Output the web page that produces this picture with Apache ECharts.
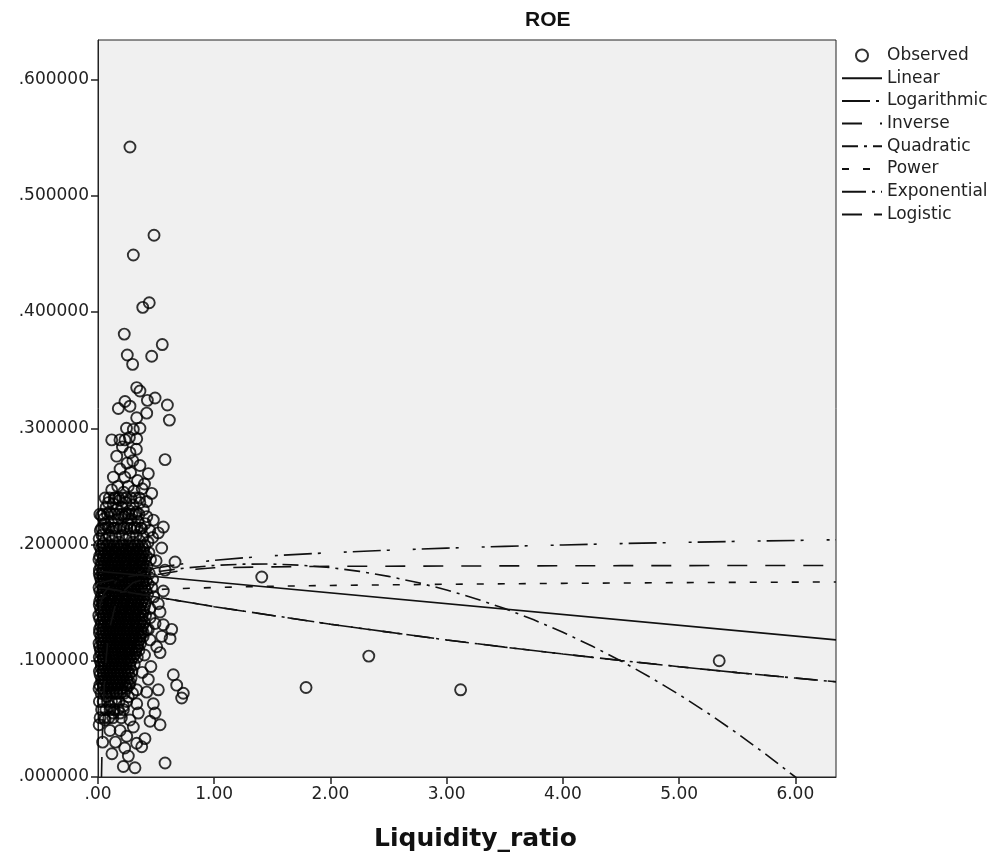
<!DOCTYPE html>
<html>
<head>
<meta charset="utf-8">
<script src="https://cdn.jsdelivr.net/npm/echarts@6/dist/echarts.min.js"></script>
<style>html,body{margin:0;padding:0;background:#fff}#c{width:1001px;height:860px}</style>
</head>
<body>
<div id="c"></div>
<script>
// ---- Observed points: isolated points read individually ----
const observedPoints = [
  [0.275,0.542],[0.482,0.466],[0.304,0.449],[0.441,0.408],[0.385,0.404],[0.226,0.381],
  [0.553,0.372],[0.252,0.363],[0.462,0.362],[0.298,0.355],[0.333,0.335],[0.361,0.332],
  [0.491,0.326],[0.425,0.324],[0.597,0.320],[0.175,0.317],[0.232,0.323],[0.275,0.319],
  [0.419,0.313],[0.614,0.307],[0.333,0.309],[0.361,0.300],[0.304,0.299],[0.118,0.290],
  [0.189,0.290],[0.232,0.290],[0.333,0.291],[0.161,0.276],[0.577,0.273],[0.275,0.279],
  [0.361,0.268],[0.433,0.261],[0.132,0.258],[0.462,0.244],[0.118,0.247],[0.089,0.236],
  [0.419,0.237],[0.210,0.284],[0.250,0.270],[0.300,0.272],[0.190,0.265],[0.230,0.258],
  [0.340,0.255],[0.280,0.262],[0.170,0.250],[0.220,0.245],[0.260,0.250],[0.310,0.246],
  [0.380,0.248],[0.150,0.240],[0.400,0.252],[0.330,0.282],[0.245,0.300],[0.270,0.292],
  [0.060,0.218],[0.046,0.201],[0.476,0.221],[0.562,0.215],[0.519,0.210],[0.548,0.197],
  [0.030,0.225],[0.070,0.232],[0.100,0.228],[0.130,0.235],[0.160,0.230],[0.185,0.238],
  [0.205,0.232],[0.240,0.236],[0.270,0.229],[0.300,0.234],[0.330,0.228],[0.360,0.236],
  [0.390,0.230],[0.420,0.224],[0.020,0.212],[0.050,0.222],[0.085,0.215],[0.115,0.220],
  [0.140,0.214],[0.175,0.222],[0.200,0.216],[0.225,0.224],[0.255,0.218],[0.285,0.222],
  [0.315,0.215],[0.345,0.220],[0.375,0.214],[0.405,0.218],[0.445,0.212],[0.010,0.205],
  [0.035,0.208],[0.065,0.204],[0.095,0.208],[0.125,0.203],[0.150,0.207],[0.180,0.202],
  [0.210,0.208],[0.240,0.204],[0.270,0.207],[0.300,0.202],[0.330,0.208],[0.360,0.203],
  [0.390,0.207],[0.430,0.202],[0.470,0.206],
  [0.663,0.185],[0.577,0.178],[0.562,0.160],[0.519,0.149],[0.534,0.142],[0.491,0.132],
  [0.562,0.131],[0.634,0.127],[0.620,0.119],[0.534,0.107],[0.448,0.118],[0.390,0.124],
  [0.648,0.088],[0.677,0.079],[0.734,0.072],[0.720,0.068],[0.433,0.084],[0.519,0.075],
  [0.476,0.063],[0.491,0.055],[0.448,0.048],[0.534,0.045],[0.333,0.063],[0.347,0.055],
  [0.275,0.049],[0.304,0.043],[0.247,0.035],[0.333,0.029],[0.376,0.026],[0.404,0.033],
  [0.218,0.009],[0.318,0.008],[0.577,0.012],[0.261,0.018],[0.103,0.040],[0.060,0.049],
  [0.103,0.061],[0.075,0.069],[0.218,0.061],[0.189,0.055],[0.132,0.055],[0.261,0.069],
  [0.161,0.072],[0.333,0.075],[0.419,0.073],[0.275,0.081],[0.448,0.137],[0.433,0.127],
  [0.505,0.112],[0.548,0.121],[0.470,0.170],[0.500,0.186],[0.480,0.155],[0.455,0.095],
  [0.380,0.090],[0.400,0.105],[0.150,0.030],[0.190,0.040],[0.230,0.025],[0.120,0.020],
  [0.040,0.030],[0.010,0.045],
  [1.409,0.172],[1.790,0.077],[2.330,0.104],[3.120,0.075],[5.345,0.100]
];
// ---- Observed points: dense core, read row by row (y level, then x values) ----
const coreRowY = [0.240,0.226,0.214,
                  0.199,0.196,0.193,0.190,0.187,0.184,0.181,0.178,0.175,0.172,0.169,0.166,0.163,0.160,0.157,0.154,
                  0.151,0.148,0.145,0.142,0.139,0.136,0.133,0.130,0.127,0.124,0.121,0.118,0.115,0.112,0.109,0.106,
                  0.103,0.100,0.097,0.094,0.091,0.088,0.085,0.082,0.079,0.076,0.072,0.065,0.058,0.051];
const coreRowX = [
  [0.061,0.098,0.139,0.178,0.211,0.244,0.283,0.321,0.356],
  [0.016,0.047,0.081,0.113,0.148,0.176,0.209,0.236,0.262,0.291,0.322,0.352],
  [0.031,0.062,0.094,0.128,0.157,0.189,0.219,0.248,0.279,0.308,0.338,0.368],
  [0.012,0.041,0.078,0.104,0.139,0.163,0.198,0.221,0.258,0.283,0.317,0.342,0.379,0.404],
  [0.026,0.057,0.091,0.118,0.151,0.179,0.211,0.239,0.271,0.298,0.331,0.358,0.392],
  [0.028,0.062,0.087,0.123,0.148,0.184,0.207,0.243,0.268,0.302,0.329,0.364,0.392,0.438],
  [0.015,0.049,0.076,0.109,0.137,0.168,0.197,0.229,0.256,0.291,0.318,0.352,0.381,0.415],
  [0.008,0.043,0.071,0.098,0.133,0.158,0.192,0.226,0.251,0.287,0.311,0.347,0.371,0.405,0.452],
  [0.029,0.058,0.085,0.116,0.146,0.177,0.211,0.238,0.269,0.302,0.328,0.359,0.388],
  [0.024,0.053,0.089,0.117,0.142,0.176,0.203,0.238,0.262,0.296,0.323,0.358,0.384,0.421],
  [0.012,0.041,0.072,0.101,0.131,0.163,0.191,0.224,0.253,0.283,0.316,0.343,0.376,0.408],
  [0.011,0.038,0.066,0.103,0.128,0.161,0.189,0.217,0.249,0.274,0.308,0.336,0.369,0.398,0.441],
  [0.018,0.044,0.071,0.099,0.136,0.165,0.192,0.221,0.251,0.279,0.311,0.341,0.372,0.401],
  [0.027,0.058,0.082,0.114,0.151,0.172,0.208,0.233,0.266,0.291,0.327,0.352,0.387,0.416],
  [0.027,0.061,0.088,0.118,0.147,0.178,0.206,0.237,0.266,0.295,0.329,0.357,0.386,0.431],
  [0.009,0.046,0.073,0.097,0.136,0.159,0.194,0.219,0.254,0.279,0.313,0.341,0.373,0.402,0.463],
  [0.016,0.041,0.077,0.106,0.138,0.169,0.199,0.226,0.258,0.287,0.317,0.349,0.381,0.414],
  [0.031,0.057,0.091,0.121,0.146,0.181,0.206,0.241,0.264,0.298,0.324,0.359,0.391,0.427],
  [0.025,0.052,0.083,0.113,0.152,0.176,0.214,0.237,0.272,0.298,0.333,0.362,0.393],
  [0.014,0.039,0.068,0.106,0.129,0.166,0.188,0.228,0.252,0.286,0.309,0.344,0.377,0.412],
  [0.011,0.038,0.069,0.097,0.127,0.161,0.193,0.219,0.247,0.278,0.307,0.339,0.368,0.403],
  [0.022,0.054,0.083,0.112,0.143,0.174,0.211,0.236,0.271,0.293,0.331,0.356,0.395,0.447],
  [0.028,0.059,0.088,0.121,0.149,0.184,0.208,0.242,0.268,0.302,0.327,0.363,0.389],
  [0.007,0.044,0.072,0.101,0.131,0.157,0.196,0.223,0.257,0.281,0.318,0.346,0.381,0.409],
  [0.015,0.046,0.076,0.106,0.139,0.167,0.201,0.227,0.258,0.287,0.316,0.351,0.378],
  [0.029,0.061,0.088,0.119,0.152,0.178,0.209,0.239,0.263,0.304,0.328,0.362,0.397],
  [0.024,0.053,0.084,0.112,0.143,0.171,0.199,0.233,0.261,0.293,0.324,0.356,0.384],
  [0.013,0.042,0.069,0.099,0.134,0.162,0.191,0.218,0.253,0.277,0.314,0.338,0.374,0.418],
  [0.012,0.039,0.071,0.104,0.129,0.161,0.188,0.222,0.248,0.281,0.309,0.341,0.372],
  [0.026,0.056,0.086,0.116,0.144,0.177,0.204,0.234,0.268,0.296,0.321,0.357,0.389],
  [0.027,0.062,0.092,0.121,0.153,0.181,0.213,0.241,0.271,0.298,0.331,0.358],
  [0.009,0.038,0.074,0.103,0.127,0.163,0.187,0.224,0.249,0.282,0.307,0.343,0.366],
  [0.014,0.044,0.068,0.099,0.131,0.158,0.192,0.219,0.252,0.277,0.312,0.339],
  [0.021,0.052,0.081,0.113,0.141,0.171,0.199,0.231,0.262,0.289,0.326,0.352],
  [0.026,0.058,0.089,0.124,0.149,0.179,0.207,0.238,0.266,0.294,0.321],
  [0.011,0.045,0.067,0.096,0.132,0.156,0.186,0.216,0.247,0.273,0.301,0.338],
  [0.018,0.047,0.077,0.109,0.139,0.168,0.198,0.229,0.257,0.284],
  [0.028,0.058,0.091,0.121,0.148,0.179,0.208,0.241,0.274,0.312],
  [0.027,0.059,0.088,0.119,0.151,0.182,0.211,0.243,0.276],
  [0.012,0.043,0.074,0.106,0.133,0.166,0.194,0.227,0.258,0.293],
  [0.018,0.049,0.078,0.108,0.141,0.172,0.201,0.232,0.266],
  [0.031,0.062,0.089,0.118,0.152,0.183,0.214,0.249,0.284],
  [0.032,0.064,0.095,0.127,0.158,0.189,0.222,0.254],
  [0.016,0.048,0.079,0.111,0.139,0.171,0.206,0.236,0.268],
  [0.009,0.043,0.074,0.103,0.136,0.167,0.198,0.245],
  [0.027,0.063,0.097,0.128,0.158,0.193,0.226,0.297],
  [0.012,0.044,0.082,0.116,0.149,0.181,0.247],
  [0.031,0.068,0.104,0.139,0.173,0.219],
  [0.018,0.055,0.093,0.128,0.201]
];
// ---- Fitted curves at sample x positions ----
const linearCurve = [[0.0,0.177],[6.35,0.118]];
const logCurve = [[0.01,0.1424],[0.02,0.149],[0.05,0.1578],[0.1,0.1644],[0.2,0.171],[0.3,0.1749],[0.5,0.1798],[0.75,0.1837],[1,0.1864],[1.25,0.1885],[1.5,0.1903],[2,0.193],[2.5,0.1951],[3,0.1969],[3.5,0.1984],[4,0.1996],[4.5,0.2008],[5,0.2018],[5.5,0.2027],[6,0.2035],[6.35,0.2041]];
const inverseCurve = [[0.030,0.0],[0.032,0.01],[0.035,0.025],[0.04,0.045],[0.05,0.07],[0.06,0.09],[0.08,0.113],[0.1,0.128],[0.15,0.148],[0.2,0.158],[0.3,0.167],[0.5,0.174],[0.75,0.178],[1,0.18],[1.5,0.1808],[2,0.1812],[3,0.1815],[4.5,0.1818],[6.35,0.182]];
const quadraticCurve = [[0,0.1667],[0.25,0.1721],[0.5,0.1765],[0.75,0.1798],[1,0.182],[1.25,0.1831],[1.5,0.1832],[1.75,0.1822],[2,0.1801],[2.25,0.1769],[2.5,0.1726],[2.75,0.1673],[3,0.1609],[3.25,0.1534],[3.5,0.1449],[3.75,0.1352],[4,0.1245],[4.25,0.1127],[4.5,0.0998],[4.75,0.0859],[5,0.0709],[5.25,0.0548],[5.5,0.0376],[5.75,0.0193],[6,0.0],[6.1,-0.0072]];
const powerCurve = [[0.02,0.153],[0.05,0.155],[0.1,0.157],[0.2,0.159],[0.3,0.160],[0.6,0.1617],[1,0.163],[1.5,0.1641],[2,0.1648],[3,0.1658],[4,0.1666],[5,0.1672],[6.35,0.1678]];
const exponentialCurve = [[0,0.1633],[0.5,0.1549],[1,0.1465],[1.5,0.139],[2,0.1314],[2.5,0.1246],[3,0.1179],[3.5,0.1117],[4,0.1058],[4.5,0.1002],[5,0.0949],[5.5,0.0898],[6,0.0851],[6.35,0.0819]];
const logisticCurve = [[0,0.1633],[0.5,0.1549],[1,0.1465],[1.5,0.139],[2,0.1314],[2.5,0.1246],[3,0.1179],[3.5,0.1117],[4,0.1058],[4.5,0.1002],[5,0.0949],[5.5,0.0898],[6,0.0851],[6.35,0.0819]];
const xTicks = [0,1,2,3,4,5,6];
const yTicks = [0,0.1,0.2,0.3,0.4,0.5,0.6];
const legendNames = ['Observed','Linear','Logarithmic','Inverse','Quadratic','Power','Exponential','Logistic'];

const observed = observedPoints.slice();
coreRowY.forEach((y, i) => coreRowX[i].forEach(x => observed.push([x, y])));

const strip = s => s.charAt(0) === '0' ? s.slice(1) : s;
const FONT = 'DejaVu Sans';
function lineSeries(name, data, type) {
  return {
    name, type: 'line', data, symbol: 'none', showSymbol: false,
    smooth: false, clip: true, z: 3,
    lineStyle: { color: '#111', width: 1.6, type: type },
    itemStyle: { color: '#111' },
    emphasis: { disabled: true }
  };
}

const chart = echarts.init(document.getElementById('c'), null, { renderer: 'canvas' });
chart.setOption({
  animation: false,
  backgroundColor: '#fff',
  graphic: [{
    type: 'text', left: 525, top: 10,
    style: { text: 'ROE', font: 'bold 21px "Liberation Sans", sans-serif', fill: '#111' }
  }, {
    type: 'text', left: 374, top: 827,
    style: { text: 'Liquidity_ratio', font: 'bold 25px "DejaVu Sans", sans-serif', fill: '#111' }
  }],
  grid: { left: 98, right: 165, top: 40, bottom: 83, show: true, backgroundColor: '#f0f0f0', borderColor: '#222', borderWidth: 1 },
  legend: {
    orient: 'vertical', left: 841, top: 47, padding: 0, itemWidth: 40, itemHeight: 12, itemGap: 5.7,
    data: legendNames.map((n, i) => i === 0 ? { name: n } : { name: n, itemStyle: { opacity: 0 } }),
    textStyle: { fontFamily: FONT, fontSize: 17, color: '#222', lineHeight: 16 },
    selectedMode: false
  },
  xAxis: {
    type: 'value', min: 0, max: 6.35, interval: 1,
    axisLine: { show: true, lineStyle: { color: '#222', width: 1 } },
    axisTick: { show: true, length: 7, inside: false, lineStyle: { color: '#222', width: 1.5 } },
    axisLabel: { showMaxLabel: false, margin: 9, fontFamily: FONT, fontSize: 17, color: '#222',
      formatter: v => xTicks.some(t => Math.abs(t - v) < 1e-9) ? strip(v.toFixed(2)) : '' },
    splitLine: { show: false }
  },
  yAxis: {
    type: 'value', min: 0, max: 0.634, interval: 0.1,
    axisLine: { show: true, lineStyle: { color: '#222', width: 1 } },
    axisTick: { show: true, length: 7, inside: false, lineStyle: { color: '#222', width: 1.5 } },
    axisLabel: { showMaxLabel: false, margin: 9, fontFamily: FONT, fontSize: 17, color: '#222',
      formatter: v => yTicks.some(t => Math.abs(t - v) < 1e-9) ? strip(v.toFixed(6)) : '' },
    splitLine: { show: false }
  },
  series: [
    {
      name: 'Observed', type: 'scatter', data: observed, symbol: 'circle', symbolSize: 11, z: 2,
      itemStyle: { color: 'rgba(0,0,0,0)', borderColor: '#000', borderWidth: 1.9 },
      emphasis: { disabled: true }
    },
    lineSeries('Linear', linearCurve, 'solid'),
    lineSeries('Logarithmic', logCurve, [28, 6, 3, 23, 3, 6]),
    lineSeries('Inverse', inverseCurve, [20, 18]),
    lineSeries('Quadratic', quadraticCurve, [16, 6, 3, 6]),
    lineSeries('Power', powerCurve, [7, 14]),
    lineSeries('Exponential', exponentialCurve, [24, 6, 3, 6]),
    lineSeries('Logistic', logisticCurve, [20, 12])
  ]
});
</script>
</body>
</html>
